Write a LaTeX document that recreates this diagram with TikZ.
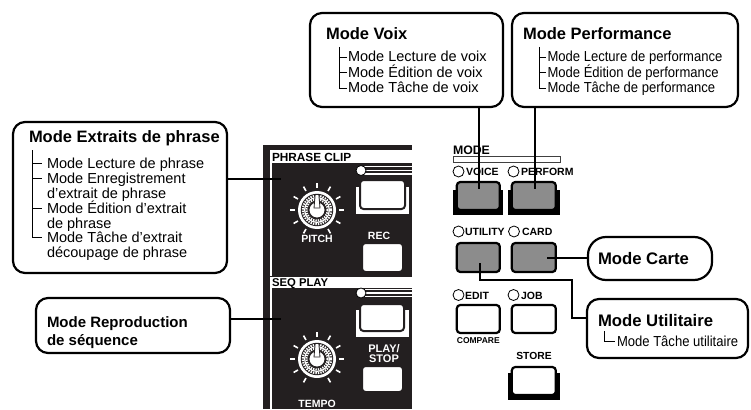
\documentclass[tikz,border=0pt]{standalone}
\usepackage{fontspec}
\setmainfont{Liberation Sans}
\newfontfamily\narrowsf{Liberation Sans}[FakeStretch=0.9]
\usetikzlibrary{calc}
\definecolor{panelblack}{HTML}{231F20}
\definecolor{keygray}{HTML}{8C8C8C}

\tikzset{
  knob/.pic={
    \foreach \a in {60,30,...,-240} \draw[white, line width=1.6pt] (\a:22) -- (\a:27);
    \fill[white] (0,0) circle (19);
    \fill[panelblack] (0,0) circle (16.2);
    \draw[white, line width=2pt, dash pattern=on 1.4pt off 1.1pt] (0,0) circle (14.2);
    \draw[white, line width=1.2pt] (0,0) circle (12.4);
    \draw[white, line width=2pt, dash pattern=on 1.3pt off 1.1pt] (0,0) circle (10.6);
    \filldraw[fill=white, draw=panelblack, line width=0.8pt] (0,0) circle (8);
    \filldraw[fill=white, draw=panelblack, line width=0.8pt]
      (-3,-2) -- (-1.8,-15.5) -- (1.8,-15.5) -- (3,-2) -- cycle;
  }
}

\begin{document}
\begin{tikzpicture}[x=1pt,y=-1pt,
  every node/.style={inner sep=0pt, outer sep=0pt},
  modebox/.style={draw, line width=2.2pt, rounded corners=12pt, fill=white},
  boxtitle/.style={anchor=base west, font=\fontsize{16.5}{18}\selectfont\bfseries},
  item/.style={anchor=base west, font=\fontsize{14.5}{15}\selectfont},
  nitem/.style={anchor=base west, font=\fontsize{14.5}{15}\narrowsf},
  tree/.style={line width=0.9pt},
  wire/.style={line width=2pt},
  panellabel/.style={anchor=base, text=white, font=\fontsize{10.5}{11}\selectfont\bfseries},
  headlabel/.style={anchor=base west, font=\fontsize{11.8}{12}\selectfont\bfseries},
  keylabel/.style={anchor=base west, font=\fontsize{10.5}{11}\selectfont\bfseries},
  led/.style={circle, draw, line width=0.8pt, fill=white, minimum size=11pt},
  graykey/.style={draw, line width=2.2pt, rounded corners=3.5pt, fill=keygray},
  whitekey/.style={draw, line width=2.2pt, rounded corners=3.5pt, fill=white},
  panelkey/.style={draw=panelblack, line width=2pt, rounded corners=3.5pt, fill=white},
]
\useasboundingbox (0,0) rectangle (751,409);

% ---------- control panel: PHRASE CLIP / SEQ PLAY ----------
\fill[panelblack] (263,145) rectangle (412,409);
% PHRASE CLIP section frame
\fill[white] (269.5,150) rectangle (412,163);
\draw[white, line width=2pt] (270.5,163) -- (270.5,276);
\foreach \y in {166.6,170.3,174} \draw[white, line width=1.4pt] (364,\y) -- (412,\y);
\node[led, minimum size=10pt] (ledphrase) at (361,170.5) {};
\node[headlabel] (phraselabel) at (272,161.8) {PHRASE CLIP};
% SEQ PLAY section frame
\fill[white] (269.5,277) rectangle (412,287.5);
\draw[white, line width=2pt] (270.5,287) -- (270.5,409);
\foreach \y in {289.5,293,296.5} \draw[white, line width=1.4pt] (364,\y) -- (412,\y);
\node[led, minimum size=10pt] (ledseq) at (361,293) {};
\node[headlabel, font=\fontsize{11.3}{12}\selectfont\bfseries] (seqlabel) at (272,286.8) {SEQ PLAY};

% knobs
\pic (pitchknob) at (317,210) {knob};
\pic (tempoknob) at (317,359) {knob};
\node[panellabel] (pitchlabel) at (317,242.5) {PITCH};
\node[panellabel] (tempolabel) at (317,407) {TEMPO};

% panel keys
\fill[white] (356,187) rectangle (409,214);
\node[panelkey, minimum width=45pt, minimum height=29pt] (phrasekey) at (382.5,194.5) {};
\node[panellabel] (reclabel) at (379,239) {REC};
\node[panelkey, minimum width=41pt, minimum height=29pt] (reckey) at (382.5,257.5) {};
\fill[white] (356,310) rectangle (409,337);
\node[panelkey, minimum width=44pt, minimum height=27pt] (playkey) at (382,317.5) {};
\node[panellabel, font=\fontsize{11}{11}\selectfont\bfseries] (playlabel) at (384,352) {PLAY/};
\node[panellabel, font=\fontsize{11}{11}\selectfont\bfseries] (stoplabel) at (384,362.5) {STOP};
\node[panelkey, minimum width=41pt, minimum height=26pt] (stopkey) at (382.5,379) {};

% ---------- MODE keys ----------
\node[keylabel, font=\fontsize{12.3}{13}\selectfont\bfseries] (modelabel) at (453,154.5) {MODE};
\draw[black!75, line width=0.8pt] (453.5,156.5) rectangle (560,162);

\node[led] (ledvoice) at (458.5,171.5) {};
\node[keylabel] (voicelabel) at (466,175.5) {VOICE};
\node[led] (ledperform) at (513.5,171.5) {};
\node[keylabel] (performlabel) at (521,175.5) {PERFORM};
\fill[black] (452.7,190) rectangle (503.3,215);
\fill[black] (508,190) rectangle (560,215);
\node[graykey, minimum width=43pt, minimum height=28pt] (voicekey) at (478.3,196) {};
\node[graykey, minimum width=44pt, minimum height=28pt] (performkey) at (533.8,196) {};

\node[led] (ledutility) at (458.5,231.5) {};
\node[keylabel] (utilitylabel) at (465,235.5) {UTILITY};
\node[led] (ledcard) at (514,231.5) {};
\node[keylabel] (cardlabel) at (522,235.5) {CARD};
\node[graykey, minimum width=43pt, minimum height=29pt] (utilitykey) at (478.3,257.5) {};
\node[graykey, minimum width=44pt, minimum height=29pt] (cardkey) at (533.8,257.5) {};

\node[led] (lededit) at (458.5,295) {};
\node[keylabel] (editlabel) at (465,299) {EDIT};
\node[led] (ledjob) at (513.5,295) {};
\node[keylabel] (joblabel) at (521,299) {JOB};
\node[whitekey, minimum width=43pt, minimum height=28pt] (editkey) at (478.3,319) {};
\node[whitekey, minimum width=44pt, minimum height=28pt] (jobkey) at (533.8,319) {};
\node[anchor=base, font=\fontsize{8.5}{9}\selectfont\bfseries] (comparelabel) at (478.3,343) {COMPARE};
\node[anchor=base, font=\fontsize{10.3}{11}\selectfont\bfseries] (storelabel) at (534,359) {STORE};
\fill[black] (508,373) rectangle (560,400);
\node[whitekey, minimum width=44pt, minimum height=28pt] (storekey) at (533.8,381) {};

% ---------- mode boxes ----------
\node[modebox, minimum width=193pt, minimum height=94pt] (voix) at (406.5,60) {};
\node[boxtitle] (voixtitle) at (326,40) {Mode Voix};
\draw[tree] (339,47) -- (339,88);
\foreach \y in {57,72.5,88} \draw[tree] (339,\y) -- (346.5,\y);
\node[item] (voix1) at (348,62) {Mode Lecture de voix};
\node[item] (voix2) at (348,77.5) {Mode Édition de voix};
\node[item] (voix3) at (348,93) {Mode Tâche de voix};

\node[modebox, minimum width=226pt, minimum height=94pt] (perf) at (625,60) {};
\node[boxtitle] (perftitle) at (523,40) {Mode Performance};
\draw[tree] (539,47) -- (539,88);
\foreach \y in {57,72.5,88} \draw[tree] (539,\y) -- (546,\y);
\node[nitem] (perf1) at (547.5,62) {Mode Lecture de performance};
\node[nitem] (perf2) at (547.5,77.5) {Mode Édition de performance};
\node[nitem] (perf3) at (547.5,93) {Mode Tâche de performance};

\node[modebox, minimum width=214pt, minimum height=151pt] (extraits) at (120,197.5) {};
\node[boxtitle] (extraitstitle) at (29,142) {Mode Extraits de phrase};
\draw[tree] (32,150) -- (32,237);
\foreach \y in {163,178,208,237} \draw[tree] (32,\y) -- (42,\y);
\node[item] (ext1) at (47,168) {Mode Lecture de phrase};
\node[item] (ext2) at (47,183) {Mode Enregistrement};
\node[item] (ext3) at (47,198) {d'extrait de phrase};
\node[item] (ext4) at (47,213) {Mode Édition d'extrait};
\node[item] (ext5) at (47,228) {de phrase};
\node[item] (ext6) at (47,242) {Mode Tâche d'extrait};
\node[item] (ext7) at (47,257) {découpage de phrase};

\node[modebox, minimum width=194pt, minimum height=55pt] (repro) at (133,325.5) {};
\node[boxtitle, font=\fontsize{15}{16}\selectfont\bfseries] (reprotitle1) at (47,327) {Mode Reproduction};
\node[boxtitle, font=\fontsize{15}{16}\selectfont\bfseries] (reprotitle2) at (47,345.5) {de séquence};

\node[modebox, rounded corners=18pt, minimum width=124pt, minimum height=43pt] (carte) at (650,258.5) {};
\node[boxtitle, font=\fontsize{16.7}{18}\selectfont\bfseries] (cartetitle) at (598,264.5) {Mode Carte};

\node[modebox, minimum width=161pt, minimum height=59pt] (utilitaire) at (667.5,328.5) {};
\node[boxtitle, font=\fontsize{16.7}{18}\selectfont\bfseries] (utiltitle) at (598,326) {Mode Utilitaire};
\draw[tree] (604,331) -- (604,341) -- (614.5,341);
\node[nitem] (util1) at (617,346) {Mode Tâche utilitaire};

% ---------- connectors ----------
\coordinate (voiceend) at (479.3,189);
\coordinate (performend) at (535,189);
\coordinate (phraseend) at (281,179);
\coordinate (seqend) at (281,319);
\coordinate (cardstart) at (547,258);
\coordinate (utilstart) at (480,263);
\coordinate (utilturn) at (572,280);
\coordinate (utilin) at (utilitaire.west |- 0,318);
\draw[wire] (voix.south -| voiceend) -- (voiceend);
\draw[wire] (perf.south -| performend) -- (performend);
\draw[wire] (extraits.east |- phraseend) -- (phraseend);
\draw[wire] (repro.east |- seqend) -- (seqend);
\draw[wire] (cardstart) -- (carte.west |- cardstart);
\draw[wire] (utilstart) |- (utilturn) |- (utilin);
\end{tikzpicture}
\end{document}
